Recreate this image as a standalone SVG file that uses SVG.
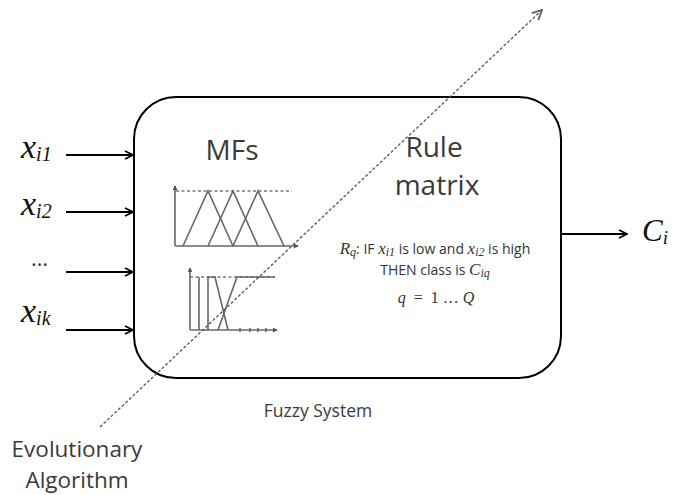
<svg xmlns="http://www.w3.org/2000/svg" width="673" height="495" viewBox="0 0 673 495">
  <style>
    .lbl { font-family: "Open Sans", "Liberation Sans", sans-serif; fill: #3a3a3a; }
    .math { font-family: "Liberation Serif", "DejaVu Serif", serif; font-style: italic; fill: #111; }
    .mathsm { font-family: "Liberation Serif", "DejaVu Serif", serif; font-style: italic; fill: #333; }
    .sm { font-family: "Open Sans", "Liberation Sans", sans-serif; fill: #333; font-size: 14px; }
    .wire { stroke: #000; stroke-width: 1.8; fill: none; }
    .mf { stroke: #666; stroke-width: 1.6; fill: none; }
    .mfdash { stroke: #777; stroke-width: 1.3; stroke-dasharray: 3 2.5; fill: none; }
  </style>
  <defs>
    <marker id="arrow" viewBox="0 0 10 10" refX="9" refY="5" markerWidth="10" markerHeight="10" markerUnits="userSpaceOnUse" orient="auto">
      <path d="M1,1 L9,5 L1,9" fill="none" stroke="#000" stroke-width="1.6"/>
    </marker>
    <marker id="arrowGray" viewBox="0 0 10 10" refX="9" refY="5" markerWidth="12" markerHeight="12" markerUnits="userSpaceOnUse" orient="auto">
      <path d="M1,1 L9,5 L1,9" fill="none" stroke="#666" stroke-width="1.6"/>
    </marker>
    <marker id="axisTip" viewBox="0 0 6 6" refX="5" refY="3" markerWidth="5" markerHeight="5" markerUnits="userSpaceOnUse" orient="auto">
      <path d="M0,0 L6,3 L0,6 Z" fill="#555"/>
    </marker>
  </defs>

  <!-- Fuzzy system block -->
  <g id="fuzzy-system">
    <rect x="134" y="97" width="427" height="281" rx="42" ry="42" fill="#fff" stroke="#000" stroke-width="2"/>
    <text class="lbl" x="318" y="417" font-size="17.5" text-anchor="middle">Fuzzy System</text>
  </g>

  <!-- Membership functions panel -->
  <g id="mfs">
    <text class="lbl" x="232" y="160" font-size="28" text-anchor="middle">MFs</text>
    <!-- triangular set -->
    <line class="mfdash" x1="176" y1="191" x2="292" y2="191"/>
    <line class="mf" x1="175" y1="246" x2="175" y2="186" marker-end="url(#axisTip)"/>
    <line class="mf" x1="175" y1="246" x2="298" y2="246" marker-end="url(#axisTip)"/>
    <polyline class="mf" points="183,246 208,191 233,246"/>
    <polyline class="mf" points="208,246 233,191 258,246"/>
    <polyline class="mf" points="233,246 258,191 284,246"/>
    <!-- trapezoidal set -->
    <line class="mfdash" x1="190" y1="277" x2="275" y2="277"/>
    <line class="mf" x1="190" y1="330" x2="190" y2="268" marker-end="url(#axisTip)"/>
    <line class="mf" x1="190" y1="330" x2="277" y2="330" marker-end="url(#axisTip)"/>
    <line class="mf" x1="199" y1="330" x2="199" y2="277"/>
    <polyline class="mf" points="208,330 208,277 215,277 228,330"/>
    <polyline class="mf" points="218,330 237,277 275,277"/>
    <path class="mf" stroke-width="1" d="M240,328 v4 M250,328 v4 M258,328 v4 M266,328 v4"/>
  </g>

  <!-- Rule matrix panel -->
  <g id="rule-matrix">
    <text class="lbl" x="434" y="157" font-size="28" text-anchor="middle">Rule</text>
    <text class="lbl" x="437" y="195" font-size="28" text-anchor="middle">matrix</text>
    <text class="sm" x="435" y="254" text-anchor="middle"><tspan class="mathsm" font-size="17">R</tspan><tspan class="mathsm" font-size="12" dy="2">q</tspan><tspan dy="-2">: IF </tspan><tspan class="mathsm" font-size="17">x</tspan><tspan class="mathsm" font-size="12" dy="2">i1</tspan><tspan dy="-2"> is low and </tspan><tspan class="mathsm" font-size="17">x</tspan><tspan class="mathsm" font-size="12" dy="2">i2</tspan><tspan dy="-2"> is high</tspan></text>
    <text class="sm" x="435" y="275" text-anchor="middle">THEN class is <tspan class="mathsm" font-size="17">C</tspan><tspan class="mathsm" font-size="12" dy="2">iq</tspan></text>
    <text class="mathsm" x="436" y="303" font-size="16" text-anchor="middle" xml:space="preserve">q  <tspan font-style="normal">=  1 … </tspan>Q</text>
  </g>

  <!-- Inputs -->
  <g id="inputs">
    <text class="math" x="21" y="158" font-size="34">x<tspan font-size="20" dy="3">i1</tspan></text>
    <text class="math" x="21" y="215" font-size="34">x<tspan font-size="20" dy="3">i2</tspan></text>
    <text class="lbl" x="31" y="266" font-size="22" fill="#111">…</text>
    <text class="math" x="21" y="322" font-size="34">x<tspan font-size="20" dy="3">ik</tspan></text>
  </g>

  <!-- Output -->
  <g id="output">
    <text class="math" x="642" y="241" font-size="31">C<tspan font-size="19" dy="3">i</tspan></text>
  </g>

  <!-- Evolutionary algorithm -->
  <g id="evolutionary-algorithm">
    <text class="lbl" x="77" y="457" font-size="22.5" text-anchor="middle">Evolutionary</text>
    <text class="lbl" x="77" y="488" font-size="22.5" text-anchor="middle">Algorithm</text>
  </g>

  <!-- Connectors -->
  <g id="connectors">
    <line class="wire" x1="66" y1="155" x2="133" y2="155" marker-end="url(#arrow)"/>
    <line class="wire" x1="66" y1="212" x2="133" y2="212" marker-end="url(#arrow)"/>
    <line class="wire" x1="66" y1="272" x2="133" y2="272" marker-end="url(#arrow)"/>
    <line class="wire" x1="66" y1="330" x2="133" y2="330" marker-end="url(#arrow)"/>
    <line class="wire" x1="562" y1="234" x2="627" y2="234" marker-end="url(#arrow)"/>
    <line x1="100" y1="427" x2="542" y2="10" stroke="#555" stroke-width="1.3" stroke-dasharray="3 2" marker-end="url(#arrowGray)"/>
  </g>
</svg>
